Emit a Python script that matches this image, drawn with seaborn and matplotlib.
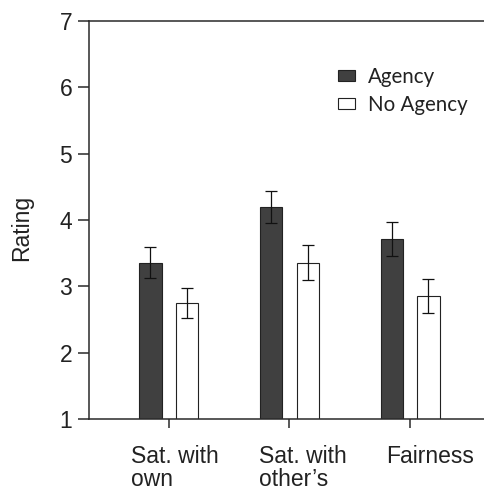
import matplotlib
matplotlib.use("Agg")
import matplotlib.pyplot as plt
import matplotlib.transforms as mtransforms
import seaborn as sns
import pandas as pd

# values
measures = ["Sat. with\nown", "Sat. with\nother\u2019s", "Fairness"]
conditions = ["Agency", "No Agency"]
agency_mean = [3.36, 4.20, 3.71]
agency_err = [0.24, 0.245, 0.255]
noagency_mean = [2.75, 3.36, 2.855]
noagency_err = [0.22, 0.26, 0.255]

df = pd.DataFrame({
    "measure": measures * 2,
    "condition": [conditions[0]] * 3 + [conditions[1]] * 3,
    "rating": agency_mean + noagency_mean,
})
errs = agency_err + noagency_err

sns.set_style("ticks")
plt.rcParams['font.family'] = ['Liberation Sans', 'DejaVu Sans']

fig = plt.figure(figsize=(4.85, 4.91), dpi=100)
ax = fig.add_axes([0.1835, 0.1466, 1 - 0.1835, 0.957 - 0.1466])

palette = {"Agency": "#404040", "No Agency": "white"}
sns.barplot(data=df, x="measure", y="rating", hue="condition", palette=palette,
            width=0.605, gap=0.39, errorbar=None, edgecolor="#222222",
            linewidth=0.8, ax=ax)

# error bars on top of each bar
bars = [p for p in ax.patches if p.get_height() > 0]
xs = [b.get_x() + b.get_width() / 2 for b in bars]
ys = [b.get_height() for b in bars]
ax.errorbar(xs, ys, yerr=errs, fmt="none", ecolor="#111111", elinewidth=0.9,
            capsize=4, capthick=0.9)

ax.set_ylim(1, 7)
ax.set_xlim(-0.66, 2.62)
ax.set_yticks(range(1, 8))
ax.set_xlabel("")
ax.set_ylabel("Rating", fontsize=16.5, color="#222222")
ax.yaxis.set_label_coords(-0.141, 0.48)

ax.spines["right"].set_visible(False)
for s in ["left", "bottom", "top"]:
    ax.spines[s].set_linewidth(1.1)
    ax.spines[s].set_color("#2a2a2a")

ax.tick_params(axis="y", length=8, width=1.1, color="#2a2a2a", pad=4,
               labelsize=16.5, labelcolor="#222222")
ax.tick_params(axis="x", length=6.5, width=1.1, color="#2a2a2a", pad=12,
               labelsize=16.5, labelcolor="#222222")

ax.set_xticks(range(3))
ax.set_xticklabels(measures, multialignment="left", linespacing=1.0)
shifts = [6, 13, 20]
for lab, dx in zip(ax.get_xticklabels(), shifts):
    lab.set_transform(lab.get_transform() +
                      mtransforms.ScaledTranslation(dx / 100, 0, fig.dpi_scale_trans))

ax.legend(loc="upper left", bbox_to_anchor=(0.63, 0.885), frameon=False,
          prop={"family": ["Lato", "DejaVu Sans"], "size": 14.8},
          handlelength=0.8, handleheight=0.5, handletextpad=0.65,
          labelspacing=0.38, borderpad=0, borderaxespad=0)
for t in ax.get_legend().get_texts():
    t.set_color("#222222")

fig.savefig("out.png", dpi=100)
